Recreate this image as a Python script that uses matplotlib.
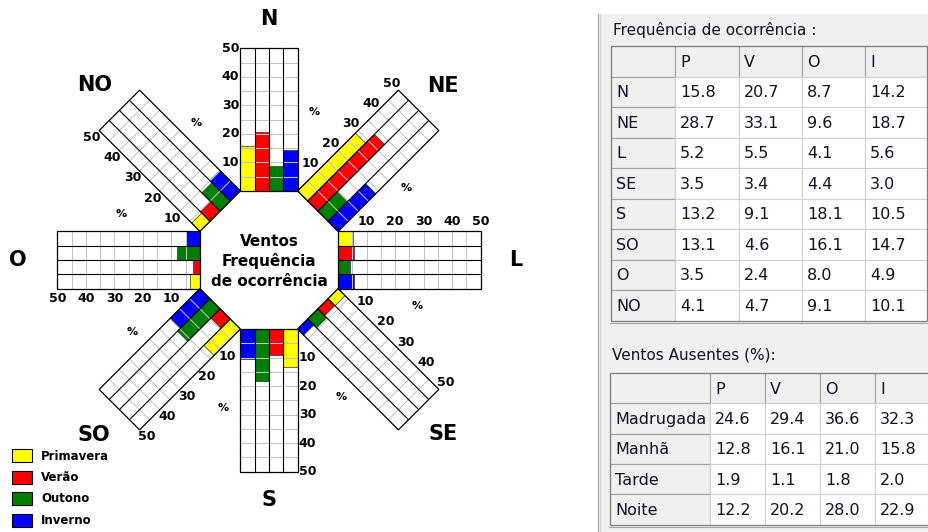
import numpy as np
import matplotlib
matplotlib.use("Agg")
import matplotlib.pyplot as plt
from matplotlib.patches import Rectangle
from matplotlib.transforms import Affine2D

# ── data ──────────────────────────────────────────────────────────────────────
directions = ["N", "NE", "L", "SE", "S", "SO", "O", "NO"]
dir_angles = [0, 45, 90, 135, 180, 225, 270, 315]
seasons = ["P", "V", "O", "I"]
season_names = ["Primavera", "Verão", "Outono", "Inverno"]
season_colors = ["#ffff00", "#ff0000", "#008000", "#0000ff"]

freq_P = [15.8, 28.7, 5.2, 3.5, 13.2, 13.1, 3.5, 4.1]
freq_V = [20.7, 33.1, 5.5, 3.4, 9.1, 4.6, 2.4, 4.7]
freq_O = [8.7, 9.6, 4.1, 4.4, 18.1, 16.1, 8.0, 9.1]
freq_I = [14.2, 18.7, 5.6, 3.0, 10.5, 14.7, 4.9, 10.1]

periods = ["Madrugada", "Manhã", "Tarde", "Noite"]
absent_P = [24.6, 12.8, 1.9, 12.2]
absent_V = [29.4, 16.1, 1.1, 20.2]
absent_O = [36.6, 21.0, 1.8, 28.0]
absent_I = [32.3, 15.8, 2.0, 22.9]

axis_ticks = [10, 20, 30, 40, 50]

# ── geometry (pixel space) ────────────────────────────────────────────────────
CX, CY = 269.0, 260.0      # octagon centre
APO = 69.1                 # octagon apothem
SIDE = 57.2                # octagon side = panel width
K = 2.85                   # px per %
VMAX = 50
BW = SIDE / 4
label_radius = [241, 246, 247, 246, 240, 248, 251, 247]

TXT = "#10102a"

fig = plt.figure(figsize=(9.29, 5.32), dpi=100)
fig.patch.set_facecolor("white")
ax = fig.add_axes([0, 0, 1, 1])
ax.set_xlim(0, 929)
ax.set_ylim(532, 0)
ax.axis("off")


def panel_transform(theta):
    t = np.radians(theta)
    ux, uy = np.sin(t), -np.cos(t)     # radial (outward)
    wx, wy = np.cos(t), np.sin(t)      # tangential (clockwise)
    m = np.array([[wx, K * ux, CX + APO * ux],
                  [wy, K * uy, CY + APO * uy],
                  [0, 0, 1]])
    return Affine2D(m) + ax.transData


# ── wind panels ───────────────────────────────────────────────────────────────
xs = [(-1.5 + i) * BW for i in range(4)]
for d, theta in enumerate(dir_angles):
    tf = panel_transform(theta)
    vals = [freq_P[d], freq_V[d], freq_O[d], freq_I[d]]

    ax.add_patch(Rectangle((-SIDE / 2, 0), SIDE, VMAX, facecolor="white",
                           edgecolor="none", transform=tf, zorder=1))
    ax.bar(xs, vals, width=BW, bottom=0, color=season_colors,
           edgecolor="#303030", linewidth=0.5, transform=tf, zorder=2)
    for g in range(5, VMAX, 5):
        ax.plot([-SIDE / 2, SIDE / 2], [g, g], color="#c4c4c4", lw=0.75,
                transform=tf, zorder=3)
    for dv in [-BW, 0, BW]:
        ax.plot([dv, dv], [0, VMAX], color="black", lw=0.8,
                transform=tf, zorder=4)
    ax.add_patch(Rectangle((-SIDE / 2, 0), SIDE, VMAX, facecolor="none",
                           edgecolor="black", lw=0.9, transform=tf, zorder=5))

    for tk in axis_ticks:
        ax.text(-SIDE / 2 - 10, tk, str(tk), ha="center", va="center",
                fontsize=9, fontweight="bold", transform=tf, zorder=6)
    ax.text(SIDE / 2 + 17, 27.7, "%", ha="center", va="center",
            fontsize=8, fontweight="bold", transform=tf, zorder=6)

    t = np.radians(theta)
    r = label_radius[d]
    ax.text(CX + r * np.sin(t), CY - r * np.cos(t), directions[d],
            ha="center", va="center", fontsize=15, fontweight="bold")

# ── centre text ───────────────────────────────────────────────────────────────
for i, line in enumerate(["Ventos", "Frequência", "de ocorrência"]):
    ax.text(CX, CY - 19 + i * 20, line, ha="center", va="center",
            fontsize=11, fontweight="bold")

# ── legend ────────────────────────────────────────────────────────────────────
for i, (name, col) in enumerate(zip(season_names, season_colors)):
    y = 449 + i * 21.5
    ax.add_patch(Rectangle((12, y), 20, 13, facecolor=col,
                           edgecolor="black", lw=0.8))
    ax.text(41, y + 7, name, ha="left", va="center",
            fontsize=8.5, fontweight="bold")

# ── right panel (form) ────────────────────────────────────────────────────────
ax.add_patch(Rectangle((598, 14), 331, 518, facecolor="#f0f0f0",
                       edgecolor="none", zorder=0))
ax.plot([597.8, 597.8], [14, 532], color="#a0a0a0", lw=0.8)
ax.plot([600.3, 600.3], [14, 532], color="#d0d0d0", lw=0.8)


def draw_table(x0, y0, col_w, row_h, header, row_labels, columns):
    n_rows = len(row_labels) + 1
    xe = np.concatenate([[x0], x0 + np.cumsum(col_w)])
    for r in range(n_rows):
        y = y0 + r * row_h
        for c in range(len(col_w)):
            gray = (r == 0) or (c == 0)
            ax.add_patch(Rectangle((xe[c], y), col_w[c], row_h,
                                   facecolor="#f0f0f0" if gray else "white",
                                   edgecolor="#a0a0a0" if gray else "#d0d0d0",
                                   lw=0.8, zorder=1))
            if r == 0:
                txt = "" if c == 0 else header[c - 1]
            elif c == 0:
                txt = row_labels[r - 1]
            else:
                txt = f"{columns[c - 1][r - 1]:.1f}"
            ax.text(xe[c] + 5, y + row_h / 2 + 1, txt, ha="left",
                    va="center", fontsize=11.5, color=TXT, zorder=3)
    y_end = y0 + n_rows * row_h
    ax.add_patch(Rectangle((x0, y0), xe[-1] - x0, y_end - y0,
                           facecolor="none", edgecolor="#808080", lw=0.9,
                           zorder=2))
    ax.plot([x0 - 1, xe[-1]], [y_end + 2, y_end + 2], color="#a8a8a8",
            lw=0.8, zorder=2)


ax.text(613, 30, "Frequência de ocorrência :", ha="left", va="center",
        fontsize=11, color=TXT)
draw_table(611, 46, [64, 64, 63, 63, 62], 30.5, seasons, directions,
           [freq_P, freq_V, freq_O, freq_I])

ax.text(612, 355, "Ventos Ausentes (%):", ha="left", va="center",
        fontsize=11, color=TXT)
draw_table(610, 373, [100, 55, 55, 55, 62], 30.3, seasons, periods,
           [absent_P, absent_V, absent_O, absent_I])

ax.set_xlim(0, 929)
ax.set_ylim(532, 0)
fig.savefig("out.png", dpi=100, facecolor="white")
